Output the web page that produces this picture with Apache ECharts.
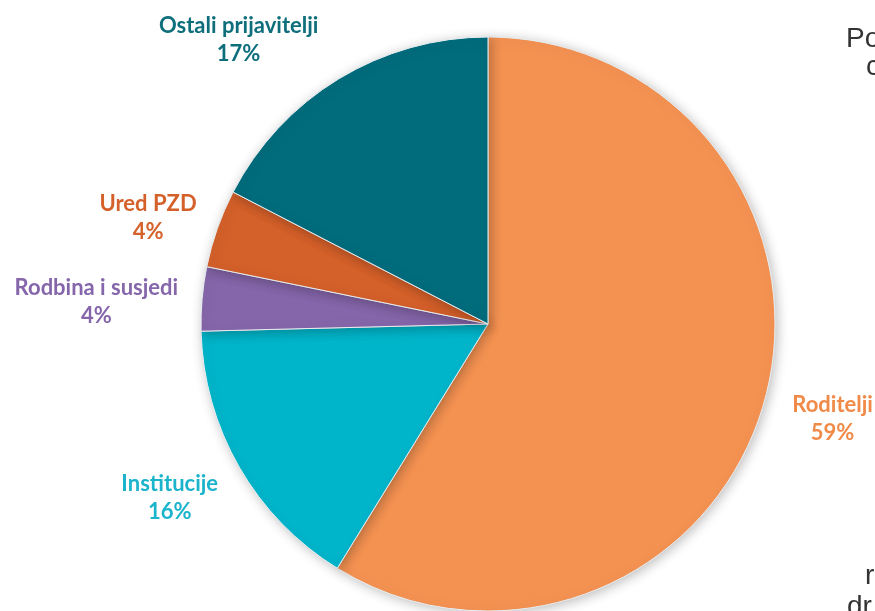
<!DOCTYPE html>
<html>
<head>
<meta charset="utf-8">
<script src="https://cdn.jsdelivr.net/npm/echarts@6/dist/echarts.min.js"></script>
<style>
  html, body { margin: 0; padding: 0; background: #fff; }
  #main { width: 875px; height: 611px; }
</style>
</head>
<body>
<div id="main"></div>
<script>
// podaci
var categories = ['Roditelji', 'Institucije', 'Rodbina i susjedi', 'Ured PZD', 'Ostali prijavitelji'];
var values = [58.8, 15.8, 3.6, 4.4, 17.4];
var colors = ['#F49252', '#00B5CA', '#8566AA', '#D4602A', '#006C7C'];
var labelColors = ['#F08A48', '#1BB4CC', '#8566AA', '#D4602A', '#0E6E7C'];
// fragmenti teksta koji su odrezani desno
var sideText = ['Po', 'c', 'r', 'dr'];

var myChart = echarts.init(document.getElementById('main'));

var data = [];
for (var i = 0; i < categories.length; i++) {
    data.push({
        name: categories[i],
        value: values[i],
        itemStyle: { color: colors[i] },
        label: { color: labelColors[i] }
    });
}

// pomak labela (kao u Excelu)
var labelShift = [[2, 11], [3, 20], [3, 5], [5, -3], [-4, -20]];
var sideFont = '28px "Liberation Sans"';

var option = {
    animation: false,
    backgroundColor: '#fff',
    graphic: [
        { type: 'text', left: 846, top: 25, style: { text: sideText[0], font: sideFont, fill: '#333' } },
        { type: 'text', left: 866, top: 53, style: { text: sideText[1], font: sideFont, fill: '#333' } },
        { type: 'text', left: 865, top: 562, style: { text: sideText[2], font: sideFont, fill: '#333' } },
        { type: 'text', left: 847, top: 593, style: { text: sideText[3], font: sideFont, fill: '#333' } }
    ],
    series: [
        {
            type: 'pie',
            center: [488, 324],
            radius: 287,
            startAngle: 90,
            clockwise: true,
            percentPrecision: 0,
            avoidLabelOverlap: false,
            itemStyle: {
                borderColor: '#e9eef2',
                borderWidth: 1,
                shadowColor: 'rgba(0,0,0,0.25)',
                shadowBlur: 12,
                shadowOffsetX: 2,
                shadowOffsetY: 2
            },
            label: {
                show: true,
                position: 'outside',
                formatter: '{b}\n{d}%',
                fontFamily: 'Lato',
                fontWeight: 'bold',
                fontSize: 22,
                lineHeight: 28
            },
            labelLine: { show: false, length: 22, length2: 0 },
            labelLayout: function (params) {
                var r = params.labelRect;
                var s = labelShift[params.dataIndex];
                return {
                    x: r.x + r.width / 2 + s[0],
                    y: r.y + r.height / 2 + s[1],
                    align: 'center',
                    verticalAlign: 'middle'
                };
            },
            data: data
        }
    ]
};

myChart.setOption(option);
</script>
</body>
</html>
